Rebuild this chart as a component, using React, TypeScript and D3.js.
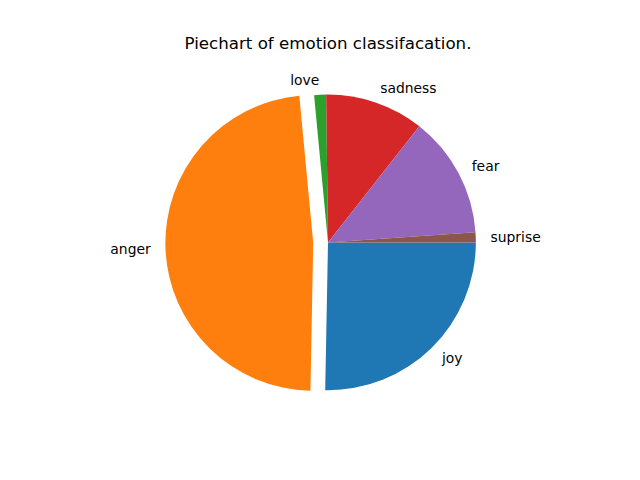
import React from "react";
import * as d3 from "d3";

const labels = ["joy", "anger", "love", "sadness", "fear", "suprise"];
const values = [25.3, 48.2, 1.3, 10.8, 13.3, 1.1];
const explode = [0, 0.1, 0, 0, 0, 0];
const colors = ["#1f77b4", "#ff7f0e", "#2ca02c", "#d62728", "#9467bd", "#8c564b"];

const W = 640;
const H = 480;

const App = () => {
  // axes box like matplotlib defaults
  const axTop = H * (1 - 0.88);
  const axH = H * 0.77;
  const cx = 640 * 0.125 + (640 * 0.775) / 2;
  const cy = axTop + axH / 2;
  const r = axH / 2.5;

  const pie = d3
    .pie<number>()
    .sort(null)
    .startAngle(Math.PI / 2)
    .endAngle(Math.PI / 2 + 2 * Math.PI);
  const arcs = pie(values);
  const arc = d3.arc<d3.PieArcDatum<number>>().innerRadius(0).outerRadius(r);

  return (
    <svg
      width={W}
      height={H}
      style={{ position: "absolute", left: 0, top: 0, background: "#fff" }}
      fontFamily="DejaVu Sans"
    >
      <text x={cx} y={axTop - 8.5} textAnchor="middle" fontSize={16.67}>
        Piechart of emotion classifacation.
      </text>
      <g transform={`translate(${cx},${cy})`}>
        {arcs.map((d, i) => {
          const mid = (d.startAngle + d.endAngle) / 2;
          const ox = Math.sin(mid) * explode[i] * r;
          const oy = -Math.cos(mid) * explode[i] * r;
          const lx = ox + Math.sin(mid) * 1.1 * r;
          const ly = oy - Math.cos(mid) * 1.1 * r;
          return (
            <g key={labels[i]}>
              <path
                d={arc(d) || ""}
                fill={colors[i]}
                transform={`translate(${ox},${oy})`}
              />
              <text
                x={lx}
                y={ly}
                dy="0.35em"
                fontSize={13.89}
                textAnchor={lx < 0 ? "end" : "start"}
              >
                {labels[i]}
              </text>
            </g>
          );
        })}
      </g>
    </svg>
  );
};

export default App;
